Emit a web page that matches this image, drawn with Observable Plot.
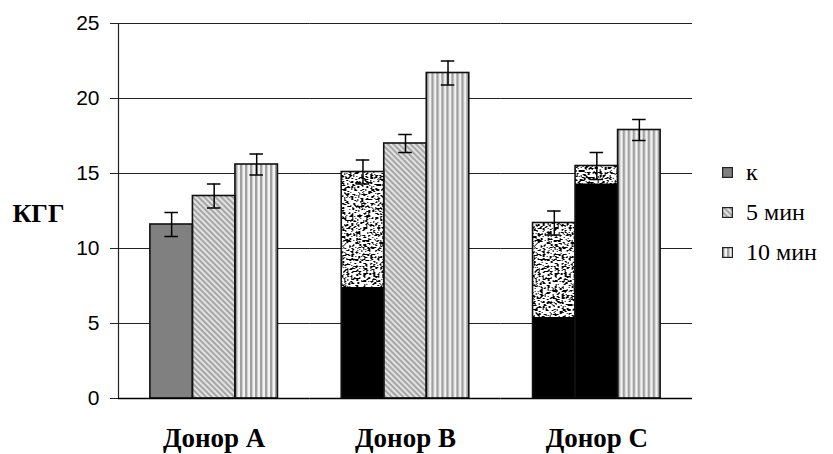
<!DOCTYPE html>
<html>
<head>
<meta charset="utf-8">
<script src="https://cdn.jsdelivr.net/npm/d3@7"></script>
<script src="https://cdn.jsdelivr.net/npm/@observablehq/plot@0.6"></script>
<style>
  html, body { margin: 0; padding: 0; background: #fff; }
  #wrap { position: relative; width: 833px; height: 454px; overflow: hidden; }
  #legend { position: absolute; left: 722px; top: 160px; font-family: "Liberation Serif", serif; font-size: 24px; color: #000; }
  .li { position: absolute; left: 0; white-space: nowrap; height: 24px; line-height: 24px; }
  .li svg { position: absolute; left: 0; top: 7px; }
  .li span { position: absolute; left: 24px; top: 0; }
</style>
</head>
<body>
<svg width="0" height="0" style="position:absolute">
  <defs>
    <pattern id="pat-0" width="4" height="4" patternUnits="userSpaceOnUse">
      <rect width="4" height="4" fill="#808080"/>
    </pattern>
    <pattern id="pat-1" width="4" height="4" patternUnits="userSpaceOnUse" patternTransform="rotate(-45)">
      <rect width="4" height="4" fill="#e2e2e2"/>
      <rect width="2" height="4" fill="#a6a6a6"/>
    </pattern>
    <pattern id="pat-2" width="5" height="4" patternUnits="userSpaceOnUse">
      <rect width="5" height="4" fill="#f2f2f2"/>
      <rect x="0" width="2" height="4" fill="#a0a0a0"/>
      <rect x="2" width="1" height="4" fill="#d0d0d0"/>
    </pattern>
    <filter id="nf" x="0" y="0" width="1" height="1" color-interpolation-filters="sRGB">
      <feTurbulence type="fractalNoise" baseFrequency="0.42" numOctaves="2" seed="11"/>
      <feColorMatrix type="matrix" values="1 0 0 0 0  1 0 0 0 0  1 0 0 0 0  0 0 0 0 1"/>
      <feComponentTransfer>
        <feFuncR type="discrete" tableValues="0 0 0 0 1 1 1 1 1"/>
        <feFuncG type="discrete" tableValues="0 0 0 0 1 1 1 1 1"/>
        <feFuncB type="discrete" tableValues="0 0 0 0 1 1 1 1 1"/>
      </feComponentTransfer>
    </filter>
    <pattern id="noise" width="120" height="120" patternUnits="userSpaceOnUse">
      <rect width="120" height="120" fill="#fff" filter="url(#nf)"/>
    </pattern>
  </defs>
</svg>
<div id="wrap"></div>
<script>
// ---- data ----
const donors = ["Донор A", "Донор B", "Донор C"];
const series = ["к", "5 мин", "10 мин"];
const kValues = [11.6, 15.1, 11.7];
const min5Values = [13.5, 17.0, 15.5];
const min10Values = [15.6, 21.7, 17.9];
const kErrors = [0.8, 0.8, 0.8];
const min5Errors = [0.8, 0.6, 0.9];
const min10Errors = [0.7, 0.8, 0.7];
// scan artefacts in the reference: noisy bars and the level below which they look solid black
const kNoisy = [false, true, true];
const min5Noisy = [false, false, true];
const min10Noisy = [false, false, false];
const kDarkBelow = [0, 7.4, 5.4];
const min5DarkBelow = [0, 0, 14.3];
const min10DarkBelow = [0, 0, 0];
const yTicks = [0, 5, 10, 15, 20, 25];

const values = [kValues, min5Values, min10Values];
const errors = [kErrors, min5Errors, min10Errors];
const noisy = [kNoisy, min5Noisy, min10Noisy];
const dark = [kDarkBelow, min5DarkBelow, min10DarkBelow];

const rows = donors.flatMap((d, i) => series.map((s, j) => ({
  donor: d, series: s, j,
  value: values[j][i], err: errors[j][i],
  noisy: noisy[j][i], dark: dark[j][i]
})));

const serif = "'Liberation Serif', 'Times New Roman', serif";
const common = {fx: "donor", x: "series"};

const marks = [
  Plot.ruleY(yTicks.filter(t => t > 0), {stroke: "#222", strokeWidth: 1.2}),
  Plot.axisY({ticks: yTicks, tickSize: 8, tickPadding: 11, fontSize: 21, stroke: "#222", tickFormat: d => String(d), label: null}),
  Plot.frame({anchor: "left", facetAnchor: "left", stroke: "#222", strokeWidth: 1.2}),
];
series.forEach((s, j) => {
  marks.push(Plot.barY(rows.filter(r => r.j === j && !r.noisy), {...common, y: "value", fill: `url(#pat-${j})`}));
});
marks.push(
  Plot.barY(rows.filter(r => r.noisy), {...common, y: "value", fill: "url(#noise)"}),
  Plot.barY(rows.filter(r => r.dark > 0), {...common, y: "dark", fill: "#000"}),
  Plot.barY(rows, {...common, y: "value", fill: "none", stroke: "#111", strokeWidth: 1.6}),
  Plot.ruleY([0], {stroke: "#000", strokeWidth: 1.4}),
  Plot.ruleX(rows, {...common, y1: d => d.value - d.err, y2: d => d.value + d.err, stroke: "#000", strokeWidth: 1.5}),
  Plot.tickY(rows, {...common, y: d => d.value - d.err, insetLeft: 14.5, insetRight: 14.5, stroke: "#000", strokeWidth: 1.5}),
  Plot.tickY(rows, {...common, y: d => d.value + d.err, insetLeft: 14.5, insetRight: 14.5, stroke: "#000", strokeWidth: 1.5}),
  Plot.axisFx({anchor: "bottom", tickSize: 0, tickPadding: 29, fontSize: 27, fontWeight: "bold", fontFamily: serif, label: null}),
  Plot.text(["КГГ"], {facetAnchor: "left", frameAnchor: "left", dx: -106, dy: 3, textAnchor: "start", fontSize: 26, fontWeight: "bold", fontFamily: serif})
);

const chart = Plot.plot({
  width: 833,
  height: 454,
  marginLeft: 118,
  marginRight: 141,
  marginTop: 23,
  marginBottom: 56,
  style: {fontFamily: "'Liberation Sans', Arial, sans-serif", background: "#fff", color: "#000", overflow: "visible"},
  fx: {domain: donors, padding: 0, round: false, label: null},
  x: {domain: series, paddingInner: 0, paddingOuter: 0.75, round: false, axis: null},
  y: {domain: [0, 25], axis: null},
  marks
});

const wrap = document.getElementById("wrap");
wrap.appendChild(chart);

// legend
const legend = document.createElement("div");
legend.id = "legend";
series.forEach((s, j) => {
  const item = document.createElement("div");
  item.className = "li";
  item.style.top = (j * 40) + "px";
  item.innerHTML = `<svg width="11" height="11"><rect x="0.6" y="0.6" width="9.8" height="9.8" fill="url(#pat-${j})" stroke="#222" stroke-width="1.2"/></svg><span>${s}</span>`;
  legend.appendChild(item);
});
wrap.appendChild(legend);
</script>
</body>
</html>
